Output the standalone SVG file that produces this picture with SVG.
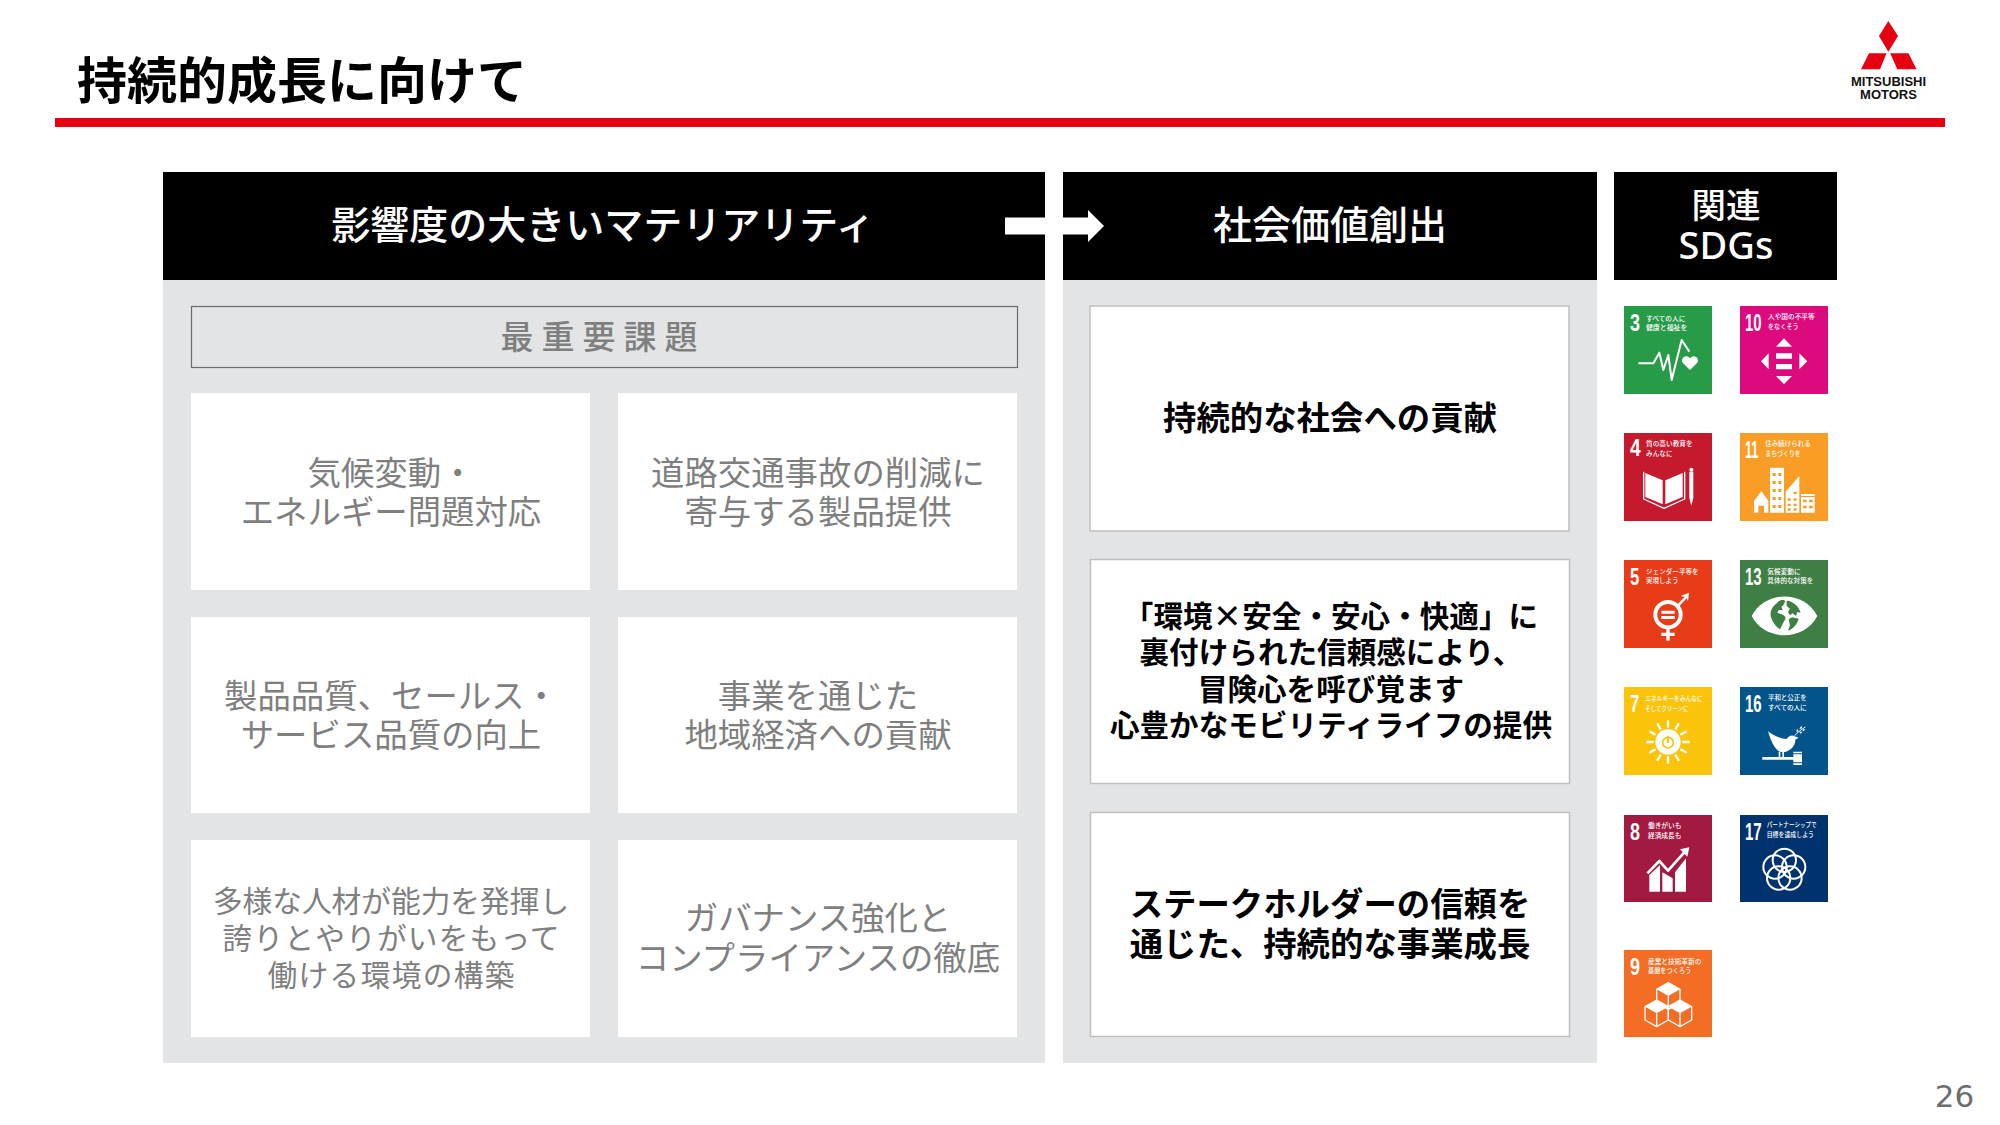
<svg xmlns="http://www.w3.org/2000/svg" width="2000" height="1125" viewBox="0 0 2000 1125">
<style>
text{font-family:"Noto Sans CJK JP","Noto Sans",sans-serif}
.hd{fill:#fff;font-size:39px;font-weight:500;text-anchor:middle}
.card{fill:#fff}
.ct{fill:#7f7f7f;font-size:33.400px;text-anchor:middle}
.rb{fill:#fff;stroke:#bfbfbf;stroke-width:1.5}
.rt{fill:#000;font-size:33.400px;font-weight:700;text-anchor:middle}
.tn{fill:#fff;font-family:"Liberation Sans Narrow","Liberation Sans",sans-serif;font-weight:700;font-size:72px}
.tl{fill:#fff;font-size:19px;font-weight:500}
.w{fill:#fff}
.s{fill:none;stroke:#fff;stroke-linejoin:round}
</style>
<defs>
<g id="cube"><path d="M0-40L35-20V20L0 40L-35 20V-20Z" fill="none" stroke="#fff" stroke-width="4" stroke-linejoin="round"/><path d="M0-40L35-20L0 0L-35-20Z" fill="#fff"/><path d="M0 0V40" stroke="#fff" stroke-width="4"/></g>
</defs>
<rect width="2000" height="1125" fill="#fff"/>
<g id="title"><text x="77" y="99" font-size="50" font-weight="700" fill="#000">持続的成長に向けて</text><rect x="55" y="118" width="1890" height="9" fill="#e60012"/></g>
<g id="logo"><path fill="#e60012" d="M1888.300 21L1898 36L1888.300 51.700L1879 36ZM1869 53.300H1886.500L1880 69.300H1861ZM1890.200 53.300H1908.500L1916.500 69.300H1897.300Z"/>
<text x="1888.500" y="86" font-size="13" font-weight="700" text-anchor="middle" fill="#111" style="font-family:'Liberation Sans',sans-serif">MITSUBISHI</text><text x="1888.500" y="99" font-size="13" font-weight="700" text-anchor="middle" fill="#111" style="font-family:'Liberation Sans',sans-serif">MOTORS</text></g>
<g id="panel-materiality"><rect x="163" y="280" width="882" height="783" fill="#e3e4e5"/><rect x="163" y="172" width="882" height="108" fill="#000"/><text class="hd" x="603" y="239">影響度の大きいマテリアリティ</text></g>
<g id="panel-value"><rect x="1063" y="280" width="534" height="783" fill="#e3e4e5"/><rect x="1063" y="172" width="534" height="108" fill="#000"/><text class="hd" x="1330" y="239">社会価値創出</text></g>
<g id="panel-sdgs"><rect x="1614" y="172" width="223" height="108" fill="#000"/><text class="hd" style="font-size:34.500px" x="1726" y="218">関連</text><text class="hd" style="font-size:38px;font-weight:500;font-family:'Noto Sans',sans-serif" x="1726" y="259">SDGs</text></g>
<g id="connectors"><path d="M1005 217.500H1088V210L1104 226L1088 242V234.500H1005Z" fill="#fff"/></g>
<g id="priority"><rect x="191.500" y="306.500" width="826" height="61" fill="none" stroke="#6b6b6b" stroke-width="1.200"/><text x="603" y="349" font-size="33" font-weight="500" fill="#7f7f7f" text-anchor="middle" letter-spacing="8">最重要課題</text></g>
<g id="m1"><rect class="card" x="191" y="393" width="399" height="197"/><text class="ct" x="391" y="485">気候変動・</text><text class="ct" x="391" y="524">エネルギー問題対応</text></g>
<g id="m2"><rect class="card" x="618" y="393" width="399" height="197"/><text class="ct" x="818" y="485">道路交通事故の削減に</text><text class="ct" x="818" y="524">寄与する製品提供</text></g>
<g id="m3"><rect class="card" x="191" y="617" width="399" height="196"/><text class="ct" x="391" y="708">製品品質、セールス・</text><text class="ct" x="391" y="747">サービス品質の向上</text></g>
<g id="m4"><rect class="card" x="618" y="617" width="399" height="196"/><text class="ct" x="818" y="708">事業を通じた</text><text class="ct" x="818" y="747">地域経済への貢献</text></g>
<g id="m5"><rect class="card" x="191" y="840" width="399" height="197"/><text class="ct" style="font-size:29.700px" x="391" y="912">多様な人材が能力を発揮し</text><text class="ct" style="font-size:29.700px" x="391" y="949" textLength="337">誇りとやりがいをもって</text><text class="ct" style="font-size:29.700px" x="391" y="986" textLength="247">働ける環境の構築</text></g>
<g id="m6"><rect class="card" x="618" y="840" width="399" height="197"/><text class="ct" x="818" y="930">ガバナンス強化と</text><text class="ct" x="818" y="970">コンプライアンスの徹底</text></g>
<g id="v1"><rect class="rb" x="1090" y="306" width="479" height="225"/><text class="rt" x="1330" y="430">持続的な社会への貢献</text></g>
<g id="v2"><rect class="rb" x="1090.500" y="559.500" width="479" height="224"/><text class="rt" style="font-size:29.600px" x="1331" y="627">「環境×安全・安心・快適」に</text><text class="rt" style="font-size:29.600px" x="1331" y="663">裏付けられた信頼感により、</text><text class="rt" style="font-size:29.600px" x="1331" y="700">冒険心を呼び覚ます</text><text class="rt" style="font-size:29.600px" x="1331" y="736">心豊かなモビリティライフの提供</text></g>
<g id="v3"><rect class="rb" x="1090.500" y="812.500" width="479" height="224"/><text class="rt" x="1330" y="916">ステークホルダーの信頼を</text><text class="rt" x="1330" y="956">通じた、持続的な事業成長</text></g>

<g id="sdg3" transform="translate(1624 306) scale(.3333)"><rect width="264" height="264" fill="#279b48"/><text class="tn" x="18" y="74" textLength="30" lengthAdjust="spacingAndGlyphs">3</text><text class="tl" x="66" y="44" textLength="118" lengthAdjust="spacingAndGlyphs">すべての人に</text><text class="tl" x="66" y="72" textLength="124" lengthAdjust="spacingAndGlyphs">健康と福祉を</text><path class="s" stroke-width="6" d="M43 172H88L106 140L118 192L133 147L143 222L173 102L196 137"/><path class="w" d="M198 192L176 170C168 155 188 143 198 157C208 143 228 155 220 170Z"/></g>
<g id="sdg10" transform="translate(1740 306) scale(.3333)"><rect width="264" height="264" fill="#dd0a7e"/><text class="tn" x="15" y="74" textLength="50" lengthAdjust="spacingAndGlyphs">10</text><text class="tl" x="84" y="40" textLength="140" lengthAdjust="spacingAndGlyphs">人や国の不平等</text><text class="tl" x="84" y="68" textLength="92" lengthAdjust="spacingAndGlyphs">をなくそう</text><path class="w" d="M132 97L156 122H108ZM86 142V190L63 166ZM178 142V190L202 166ZM108 210H156L132 235ZM108 142H156V158H108ZM108 174H156V190H108Z"/></g>
<g id="sdg4" transform="translate(1624 433) scale(.3333)"><rect width="264" height="264" fill="#c5192d"/><text class="tn" x="18" y="70" textLength="32" lengthAdjust="spacingAndGlyphs">4</text><text class="tl" x="66" y="39" textLength="140" lengthAdjust="spacingAndGlyphs">質の高い教育を</text><text class="tl" x="66" y="69" textLength="80" lengthAdjust="spacingAndGlyphs">みんなに</text><path class="w" d="M64 120L116 142V214L64 192ZM124 142L176 120V192L124 214Z"/><path class="s" stroke-width="4" d="M59 116V198L120 226L182 198V116"/><path class="w" d="M196 116H208V194L202 218L196 194Z"/><circle class="w" cx="202" cy="110" r="6"/></g>
<g id="sdg11" transform="translate(1740 433) scale(.3333)"><rect width="264" height="264" fill="#f99d26"/><text class="tn" x="15" y="74" textLength="40" lengthAdjust="spacingAndGlyphs">11</text><text class="tl" x="76" y="39" textLength="136" lengthAdjust="spacingAndGlyphs">住み続けられる</text><text class="tl" x="76" y="69" textLength="106" lengthAdjust="spacingAndGlyphs">まちづくりを</text><path class="w" d="M42 239V204L64 174L85 204V239H72V218H55V239ZM90 104H132V239H90ZM137 176L178 129V239H137ZM183 183H224V239H183Z"/><path fill="#f99d26" d="M98 120h9v9h-9zM115 120h9v9h-9zM98 144h9v9h-9zM115 144h9v9h-9zM98 168h9v9h-9zM115 168h9v9h-9zM98 192h9v9h-9zM115 192h9v9h-9zM98 216h9v9h-9zM115 216h9v9h-9zM143 196h9v7h-9zM161 196h9v7h-9zM143 212h9v7h-9zM161 212h9v7h-9zM143 226h9v7h-9zM161 226h9v7h-9zM161 176h9v7h-9zM189 200h11v8h-11zM207 200h11v8h-11zM189 218h11v8h-11zM207 218h11v8h-11zM183 189h41v3h-41z"/></g>
<g id="sdg5" transform="translate(1624 560) scale(.3333)"><rect width="264" height="264" fill="#e83b17"/><text class="tn" x="18" y="74" textLength="28" lengthAdjust="spacingAndGlyphs">5</text><text class="tl" x="66" y="41" textLength="158" lengthAdjust="spacingAndGlyphs">ジェンダー平等を</text><text class="tl" x="66" y="69" textLength="98" lengthAdjust="spacingAndGlyphs">実現しよう</text><circle cx="132" cy="164" r="38" fill="none" stroke="#fff" stroke-width="12"/><path class="w" d="M112 152H152V161H112ZM112 168H152V177H112ZM127 205H137V218H152V228H137V242H127V228H112V218H127Z"/><path class="w" d="M158 135L182 111L170 108L195 98L192 124L188 115L164 141Z"/></g>
<g id="sdg13" transform="translate(1740 560) scale(.3333)"><rect width="264" height="264" fill="#3f7e44"/><text class="tn" x="15" y="74" textLength="50" lengthAdjust="spacingAndGlyphs">13</text><text class="tl" x="82" y="41" textLength="100" lengthAdjust="spacingAndGlyphs">気候変動に</text><text class="tl" x="82" y="69" textLength="138" lengthAdjust="spacingAndGlyphs">具体的な対策を</text><path class="w" d="M35 168C75 90 192 90 232 168C192 245 75 245 35 168Z"/><path fill="#3f7e44" d="M112 128C120 118 132 118 136 124L130 136L124 140L128 150L116 150L112 158C118 162 132 162 136 172C138 180 130 184 128 192L120 208C108 200 96 185 92 168C90 150 100 136 112 128ZM140 122C160 122 178 142 182 158L172 156L168 168L158 160L150 166L144 156L150 146L140 138ZM146 178L156 172L176 176C172 192 160 206 144 212L150 196Z"/></g>
<g id="sdg7" transform="translate(1624 687) scale(.3333)"><rect width="264" height="264" fill="#fcc30b"/><text class="tn" x="18" y="74" textLength="28" lengthAdjust="spacingAndGlyphs">7</text><text class="tl" x="64" y="41" textLength="172" lengthAdjust="spacingAndGlyphs">エネルギーをみんなに</text><text class="tl" x="64" y="71" textLength="130" lengthAdjust="spacingAndGlyphs">そしてクリーンに</text><circle class="w" cx="132" cy="165" r="38"/><circle cx="132" cy="167" r="16" fill="none" stroke="#fcc30b" stroke-width="5"/><path d="M132 148V168" stroke="#fcc30b" stroke-width="6"/><g stroke="#fff" stroke-width="7"><path d="M132 100V122M132 208V230M67 165H89M175 165H197M99.500 108.700L110.500 127.700M153.500 202.300L164.500 221.300M75.700 132.500L94.700 143.500M169.300 186.500L188.300 197.500M75.700 197.500L94.700 186.500M169.300 143.500L188.300 132.500M99.500 221.300L110.500 202.300M153.500 127.700L164.500 108.700"/></g></g>
<g id="sdg16" transform="translate(1740 687) scale(.3333)"><rect width="264" height="264" fill="#02558b"/><text class="tn" x="15" y="74" textLength="50" lengthAdjust="spacingAndGlyphs">16</text><text class="tl" x="84" y="40" textLength="116" lengthAdjust="spacingAndGlyphs">平和と公正を</text><text class="tl" x="84" y="70" textLength="116" lengthAdjust="spacingAndGlyphs">すべての人に</text><path class="w" d="M84 133C100 145 122 156 140 156C146 146 156 142 164 148L176 152L166 158C166 178 150 194 128 196C106 196 92 160 84 133Z"/><path class="s" stroke-width="3" d="M164 146C172 136 184 128 196 120"/><path class="w" d="M178 126l6-10 3 8zM170 136l0-11 6 6zM186 128l10-2-5 7zM178 134l10 0-7 6z"/><path class="w" d="M67 210H160V218H67ZM160 194H186V199H160ZM160 202H186V226H160ZM160 229H186V234H160ZM116 194H121V210H116ZM127 194H132V210H127Z"/></g>
<g id="sdg8" transform="translate(1624 815) scale(.3333)"><rect width="264" height="261" fill="#a21942"/><text class="tn" x="18" y="74" textLength="30" lengthAdjust="spacingAndGlyphs">8</text><text class="tl" x="72" y="40" textLength="100" lengthAdjust="spacingAndGlyphs">働きがいも</text><text class="tl" x="72" y="68" textLength="100" lengthAdjust="spacingAndGlyphs">経済成長も</text><path class="w" d="M76 180L108 150V230H76ZM115 172L146 190V230H115ZM153 172L186 130V230H153Z"/><path class="s" stroke-width="8" d="M70 175L106 138L132 167L183 110"/><path class="w" d="M196 97L190 125L168 103Z"/></g>
<g id="sdg17" transform="translate(1740 815) scale(.3333)"><rect width="264" height="261" fill="#00336e"/><text class="tn" x="15" y="74" textLength="50" lengthAdjust="spacingAndGlyphs">17</text><text class="tl" x="80" y="37" textLength="150" lengthAdjust="spacingAndGlyphs">パートナーシップで</text><text class="tl" x="80" y="67" textLength="142" lengthAdjust="spacingAndGlyphs">目標を達成しよう</text><g fill="none" stroke="#fff" stroke-width="6"><circle cx="133" cy="136" r="35"/><circle cx="161" cy="156" r="35"/><circle cx="150" cy="189" r="35"/><circle cx="116" cy="189" r="35"/><circle cx="105" cy="156" r="35"/></g></g>
<g id="sdg9" transform="translate(1624 950) scale(.3333)"><rect width="264" height="261" fill="#f36d25"/><text class="tn" x="18" y="74" textLength="30" lengthAdjust="spacingAndGlyphs">9</text><text class="tl" x="72" y="41" textLength="160" lengthAdjust="spacingAndGlyphs">産業と技術革新の</text><text class="tl" x="72" y="69" textLength="130" lengthAdjust="spacingAndGlyphs">基盤をつくろう</text><use href="#cube" x="133" y="138"/><use href="#cube" x="98" y="190"/><use href="#cube" x="168" y="190"/></g>
<g id="page"><text x="1954.500" y="1107" font-size="31" fill="#6d6d6d" text-anchor="middle" style="font-family:'DejaVu Sans',sans-serif">26</text></g>
</svg>
